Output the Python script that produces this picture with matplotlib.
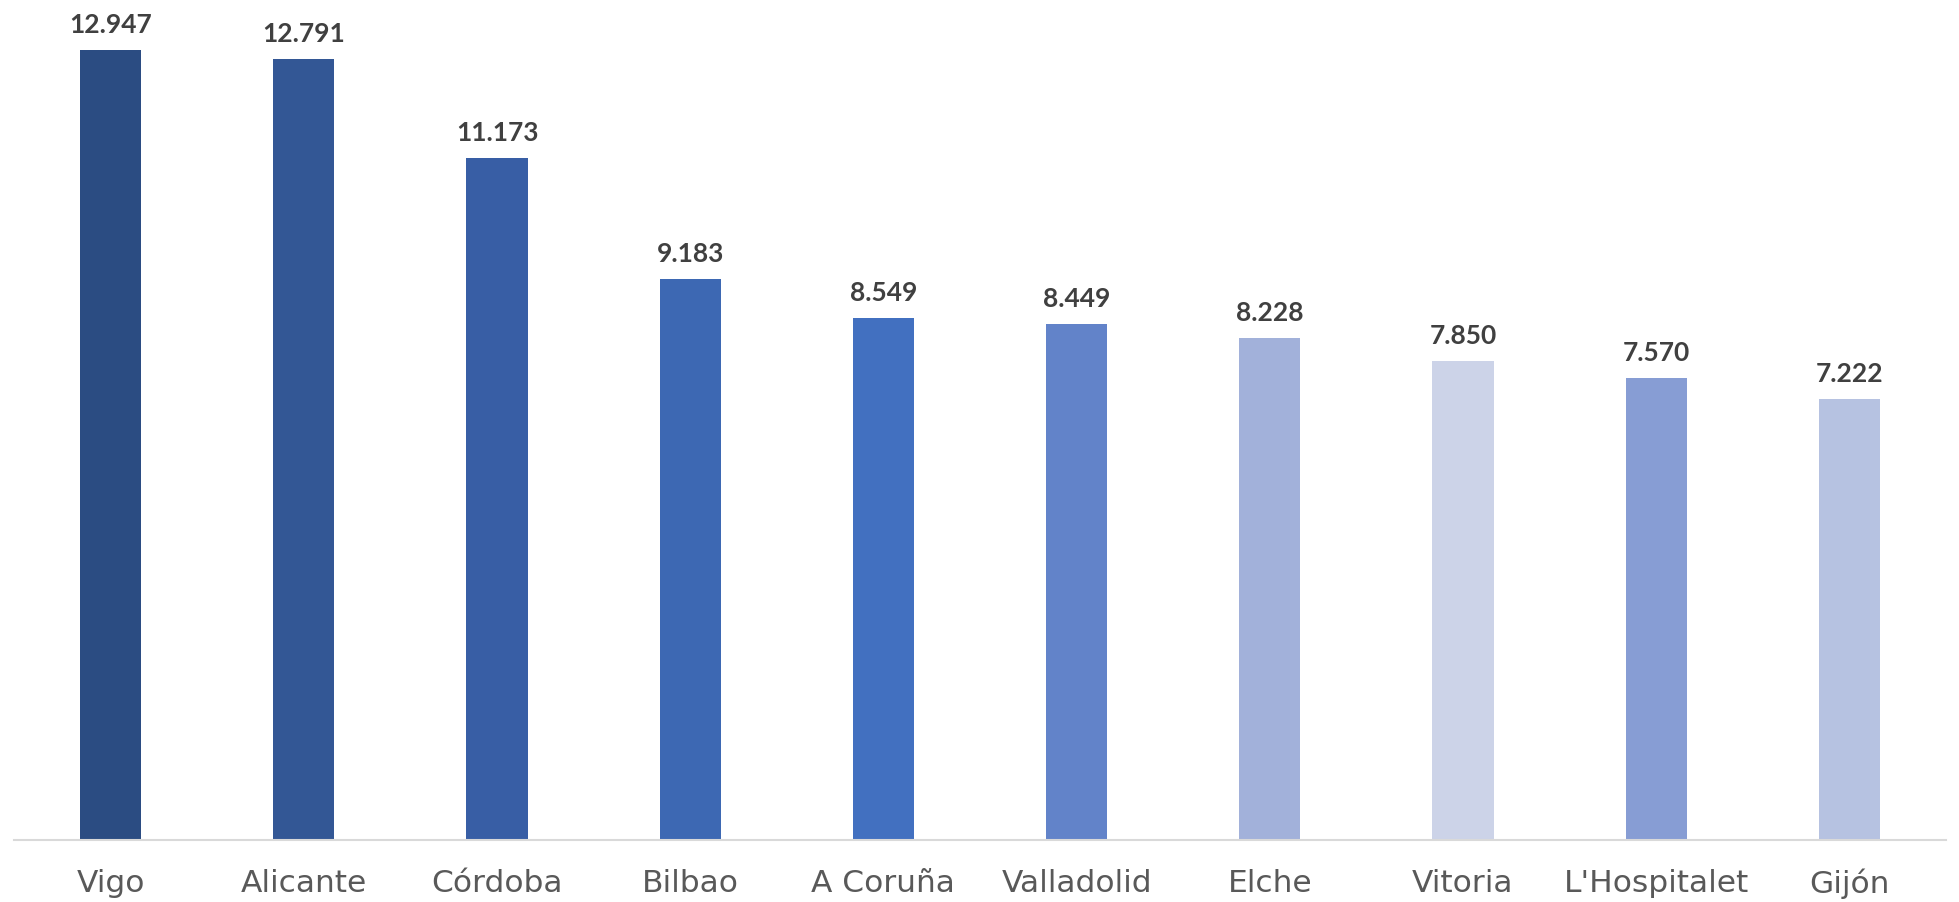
import numpy as np
import matplotlib.pyplot as plt

# Data
cities = ["Vigo", "Alicante", "Córdoba", "Bilbao", "A Coruña",
          "Valladolid", "Elche", "Vitoria", "L'Hospitalet", "Gijón"]
values = [12.947, 12.791, 11.173, 9.183, 8.549, 8.449, 8.228, 7.850, 7.570, 7.222]
labels = ["12.947", "12.791", "11.173", "9.183", "8.549",
          "8.449", "8.228", "7.850", "7.570", "7.222"]
colors = ["#2B4C82", "#335795", "#385EA5", "#3D68B3", "#4270C0",
          "#6283C9", "#A2B1DA", "#CCD3E8", "#879DD4", "#B6C2E1"]

fig = plt.figure(figsize=(19.59, 9.03), dpi=100)
ax = fig.add_axes([14 / 1959, 62 / 903, 1932 / 1959, 824 / 903])

x = np.arange(len(cities))
bars = ax.bar(x, values, width=0.317, color=colors, zorder=2)

# value labels above each bar
for xi, v, lab in zip(x, values, labels):
    ax.annotate(lab, (xi, v), xytext=(0, 13), textcoords="offset points",
                ha="center", va="baseline", fontsize=19, fontweight="bold",
                color="#404040", family="Lato")

ax.set_xlim(-0.5, len(cities) - 0.5)
ax.set_ylim(0, 13.5)
ax.set_xticks(x)
ax.set_xticklabels(cities, fontsize=22.5, color="#595959", family="DejaVu Sans")
ax.tick_params(axis="x", length=0, pad=20)
ax.set_yticks([])

for side in ["top", "right", "left"]:
    ax.spines[side].set_visible(False)
ax.spines["bottom"].set_color("#D9D9D9")
ax.spines["bottom"].set_linewidth(1.5)

fig.savefig("out.png", dpi=100)
